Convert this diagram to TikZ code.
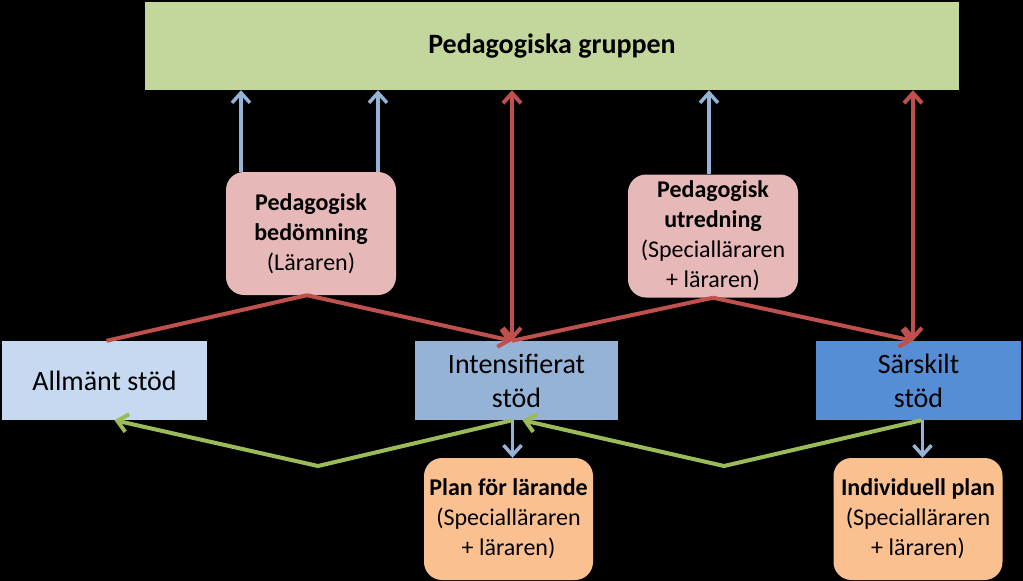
\documentclass[tikz,border=0pt]{standalone}
\usepackage{fontspec}
\setmainfont{Carlito}
\usetikzlibrary{positioning,calc,arrows.meta}

\definecolor{grpgreen}{HTML}{C3D69B}
\definecolor{bedpink}{HTML}{E6B9B8}
\definecolor{allmblue}{HTML}{C6D9F1}
\definecolor{intsblue}{HTML}{95B3D7}
\definecolor{sarsblue}{HTML}{558ED5}
\definecolor{planorange}{HTML}{FAC090}
\definecolor{arrblue}{HTML}{95B3D7}
\definecolor{arrred}{HTML}{C0504D}
\definecolor{arrgreen}{HTML}{9BBB59}

\tikzset{
  stagebox/.style={rectangle, minimum width=205pt, minimum height=79pt, inner sep=0pt,
    align=center, font=\fontsize{28}{34}\selectfont},
  assessbox/.style={rectangle, rounded corners=18pt, fill=bedpink, minimum width=170pt,
    minimum height=123pt, inner sep=0pt, align=center, font=\fontsize{24}{30}\selectfont},
  planbox/.style={assessbox, fill=planorange, minimum width=169pt, minimum height=122pt},
  barb/.style={-{Straight Barb[length=10pt,width=18pt]}},
  bluearrow/.style={arrblue, line width=3.5pt, barb},
  redline/.style={arrred, line width=4pt},
  redarrow/.style={redline, barb},
  reddouble/.style={redline, {Straight Barb[length=10pt,width=18pt]}-{Straight Barb[length=10pt,width=18pt]}},
  greenarrow/.style={arrgreen, line width=4pt, barb}
}

\begin{document}
\begin{tikzpicture}[x=1pt, y=-1pt]
    \fill[black] (0,0) rectangle (1023,581);
    \useasboundingbox (0,0) rectangle (1023,581);

    % top
    \node[rectangle, fill=grpgreen, minimum width=814pt, minimum height=88pt,
      font=\fontsize{28}{34}\selectfont\bfseries] (grp) at (552,46) {Pedagogiska gruppen};

    % assessments
    \node[assessbox] (bed) at (311,233.5) {\textbf{Pedagogisk}\\\textbf{bedömning}\\(Läraren)};
    \node[assessbox] (utr) at (713,236) {\textbf{Pedagogisk}\\\textbf{utredning}\\(Specialläraren\\+ läraren)};

    % stages of support
    \node[stagebox, fill=allmblue] (allm) at (104.5,380.5) {Allmänt stöd};
    \node[stagebox, fill=intsblue, minimum width=203pt] (ints) at (516.5,380.5) {Intensifierat\\stöd};
    \node[stagebox, fill=sarsblue] (sars) at (918.5,380.5) {Särskilt\\stöd};

    % plans
    \node[planbox] (plan) at (508.5,519) {\textbf{Plan för lärande}\\(Specialläraren\\+ läraren)};
    \node[planbox] (indv) at (918,519) {\textbf{Individuell plan}\\(Specialläraren\\+ läraren)};

    \coordinate (bedl) at ($(bed.north)+(-70,0)$);
    \coordinate (bedr) at ($(bed.north)+(67,0)$);
    \coordinate (utrt) at ($(utr.north)+(-4,0)$);
    \coordinate (bedb) at ($(bed.south)+(-4,0)$);
    \coordinate (intop) at ($(ints.north)+(-4.5,0)$);
    \coordinate (sartop) at ($(sars.north)+(-5.5,0)$);
    \coordinate (intbot) at ($(ints.south)+(-4,0)$);
    \coordinate (intbot2) at ($(ints.south)+(6,0)$);
    \coordinate (sarbot) at ($(sars.south)+(3,0)$);
    \coordinate (sarbot2) at ($(sars.south)+(4,0)$);
    \coordinate (gv1) at (318,466);
    \coordinate (gv2) at (724,466);

    % up to the group
    \draw[bluearrow] (bedl) -- (bedl |- grp.south);
    \draw[bluearrow] (bedr) -- (bedr |- grp.south);
    \draw[bluearrow] (utrt) -- (utrt |- grp.south);
    \draw[reddouble] (intop |- grp.south) -- (intop);
    \draw[reddouble] (sartop |- grp.south) -- (sartop);

    % assessment lines
    \draw[redline] (bedb) -- ($(allm.north)+(2,0)$);
    \draw[redarrow] (bedb) -- (intop);
    \draw[redline] (utr.south) -- (intop);
    \draw[redarrow] (utr.south) -- (sartop);

    % back down
    \draw[greenarrow] (intbot) -- (gv1) -- ($(allm.south)+(10,0)$);
    \draw[greenarrow] (sarbot) -- (gv2) -- (intbot2);

    % plans
    \draw[bluearrow] (intbot) -- (intbot |- plan.north);
    \draw[bluearrow] (sarbot2) -- (sarbot2 |- indv.north);
  \end{tikzpicture}
\end{document}
